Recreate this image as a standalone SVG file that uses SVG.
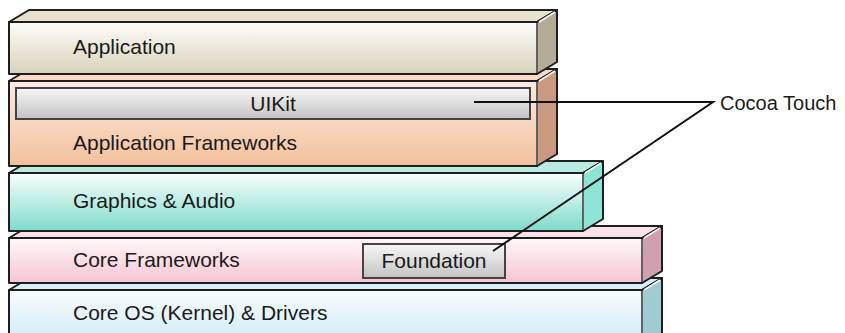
<svg xmlns="http://www.w3.org/2000/svg" width="845" height="333" viewBox="0 0 845 333">
<style>
.t{font-family:"Liberation Sans",Arial,Helvetica,sans-serif;font-size:21px;fill:#1a1a1a}
.edge{stroke:#1e1e1e;stroke-width:2;stroke-linejoin:round}
.inner{stroke:#7a7a7a;stroke-width:1.5}
.hl{stroke:#ffffff;stroke-width:1.5;fill:none}
.lbl{stroke:#444;stroke-width:2}
.conn{stroke:#111;stroke-width:2;fill:none}
</style>
<defs>
<linearGradient id="g1" x1="0" y1="0" x2="0" y2="1"><stop offset="0" stop-color="#fefdf9"/><stop offset="1" stop-color="#d7d2ba"/></linearGradient>
<linearGradient id="g2" x1="0" y1="0" x2="0" y2="1"><stop offset="0" stop-color="#fdeadf"/><stop offset="1" stop-color="#f2c19c"/></linearGradient>
<linearGradient id="g3" x1="0" y1="0" x2="0" y2="1"><stop offset="0" stop-color="#f8fefd"/><stop offset="1" stop-color="#7fdbcb"/></linearGradient>
<linearGradient id="g4" x1="0" y1="0" x2="0" y2="1"><stop offset="0" stop-color="#fff8fa"/><stop offset="1" stop-color="#f6c4d2"/></linearGradient>
<linearGradient id="g5" x1="0" y1="0" x2="0" y2="1"><stop offset="0" stop-color="#f8fcfe"/><stop offset="1" stop-color="#cde9f4"/></linearGradient>
<linearGradient id="gl" x1="0" y1="0" x2="0" y2="1"><stop offset="0" stop-color="#f7f7f7"/><stop offset="1" stop-color="#c3c3c3"/></linearGradient>
</defs>

<g id="core-os">
<polygon points="9,290 29,278 662,278 642,290" fill="#d9eff6" class="edge"/>
<polygon points="642,290 662,278 662,333 642,345" fill="#9fcbd1" class="edge"/>
<rect x="9" y="290" width="633" height="55" fill="url(#g5)" class="edge"/>
<line x1="642" y1="291" x2="642" y2="333" class="inner"/>
<line x1="644" y1="290" x2="660" y2="280" class="hl"/>
<text class="t" x="73" y="320">Core OS (Kernel) &amp; Drivers</text>
</g>

<g id="core-frameworks">
<polygon points="9,238 29,226 662,226 642,238" fill="#fae0e8" class="edge"/>
<polygon points="642,238 662,226 662,271 642,283" fill="#d0a0b0" class="edge"/>
<rect x="9" y="238" width="633" height="45" fill="url(#g4)" class="edge"/>
<line x1="642" y1="239" x2="642" y2="282" class="inner"/>
<line x1="644" y1="238" x2="660" y2="228" class="hl"/>
<text class="t" x="73" y="267">Core Frameworks</text>
<g id="foundation">
<rect x="363" y="244" width="142" height="34" fill="url(#gl)" class="lbl"/>
<text class="t" x="434" y="268" text-anchor="middle">Foundation</text>
</g>
</g>

<g id="graphics-audio">
<polygon points="9,173 29,161 603,161 583,173" fill="#b9ece1" class="edge"/>
<polygon points="583,173 603,161 603,219 583,231" fill="#8de4d5" class="edge"/>
<rect x="9" y="173" width="574" height="58" fill="url(#g3)" class="edge"/>
<line x1="583" y1="174" x2="583" y2="230" class="inner"/>
<line x1="585" y1="173" x2="601" y2="163" class="hl"/>
<text class="t" x="73" y="208">Graphics &amp; Audio</text>
</g>

<g id="application-frameworks">
<polygon points="9,81 29,69 557,69 537,81" fill="#fbd9c8" class="edge"/>
<polygon points="537,81 557,69 557,154 537,166" fill="#c99a80" class="edge"/>
<rect x="9" y="81" width="528" height="85" fill="url(#g2)" class="edge"/>
<line x1="537" y1="82" x2="537" y2="165" class="inner"/>
<line x1="539" y1="81" x2="555" y2="71" class="hl"/>
<text class="t" x="73" y="150">Application Frameworks</text>
<g id="uikit">
<rect x="16" y="88" width="514" height="31" fill="url(#gl)" class="lbl"/>
<text class="t" x="273" y="111" text-anchor="middle">UIKit</text>
</g>
</g>

<g id="application">
<polygon points="9,22 29,10 557,10 537,22" fill="#e7e2cd" class="edge"/>
<polygon points="537,22 557,10 557,62 537,74" fill="#b3ad98" class="edge"/>
<rect x="9" y="22" width="528" height="52" fill="url(#g1)" class="edge"/>
<line x1="537" y1="23" x2="537" y2="73" class="inner"/>
<line x1="539" y1="22" x2="555" y2="12" class="hl"/>
<text class="t" x="73" y="54">Application</text>
</g>

<g id="connectors">
<polyline points="474,102 713,102 493,251" class="conn"/>
</g>

<g id="cocoa-touch">
<text class="t" x="720" y="110" style="font-size:20px">Cocoa Touch</text>
</g>
</svg>
